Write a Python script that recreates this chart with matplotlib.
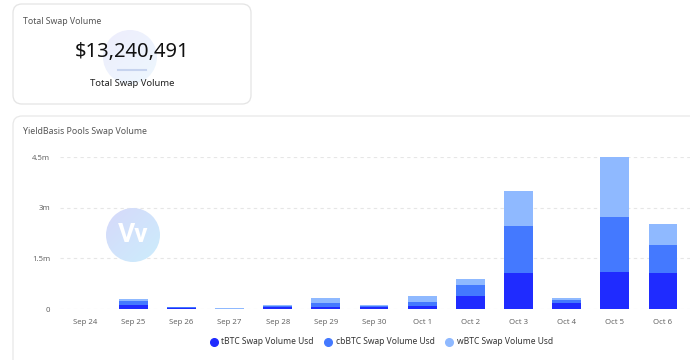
import numpy as np
import matplotlib.pyplot as plt
from matplotlib.patches import FancyBboxPatch, Circle
from matplotlib.lines import Line2D

plt.rcParams['font.family'] = ['Noto Sans', 'DejaVu Sans']

days = ['Sep 24', 'Sep 25', 'Sep 26', 'Sep 27', 'Sep 28', 'Sep 29', 'Sep 30',
        'Oct 1', 'Oct 2', 'Oct 3', 'Oct 4', 'Oct 5', 'Oct 6']
tbtc = [0, 0.12, 0.04, 0.005, 0.07, 0.07, 0.06, 0.09, 0.39, 1.08, 0.18, 1.11, 1.06]
cbbtc = [0, 0.12, 0.02, 0.005, 0.03, 0.12, 0.03, 0.13, 0.32, 1.38, 0.09, 1.61, 0.84]
wbtc = [0, 0.06, 0.01, 0.01, 0.03, 0.13, 0.02, 0.17, 0.19, 1.02, 0.07, 1.77, 0.62]
series_names = ['tBTC Swap Volume Usd', 'cbBTC Swap Volume Usd', 'wBTC Swap Volume Usd']
colors = ['#1f2bff', '#4479ff', '#8fb9ff']
total_label = '$13,240,491'
yticks = [0, 1.5e6, 3e6, 4.5e6]
yticklabels = ['0', '1.5m', '3m', '4.5m']

W, H = 690, 360
fig = plt.figure(figsize=(W / 100, H / 100), dpi=100)
fig.patch.set_facecolor('white')

# cards (pixel coordinates), kept behind everything
card1 = FancyBboxPatch((13, H - 104), 238, 100, boxstyle='round,pad=0,rounding_size=9',
                       transform=None, facecolor='white', edgecolor='#e4e4e4', linewidth=0.9, zorder=-10)
card2 = FancyBboxPatch((13, -20), 720, H - 116 + 20, boxstyle='round,pad=0,rounding_size=9',
                       transform=None, facecolor='white', edgecolor='#e8e8e8', linewidth=0.9, zorder=-10)
fig.patches.extend([card1, card2])

def px(x, y):
    return x / W, 1 - y / H

# faint watermark behind the total
g = np.linspace(0, 1, 64)
gx, gy = np.meshgrid(g, g)
t = (gx + gy) / 2

wm = fig.add_axes([(130 - 27) / W, 1 - (57 + 27) / H, 54 / W, 54 / H])
c0 = np.array([0.93, 0.93, 0.99])
c1 = np.array([0.93, 0.97, 0.995])
img = c0[None, None, :] * (1 - t[..., None]) + c1[None, None, :] * t[..., None]
im = wm.imshow(img, extent=(0, 1, 0, 1), origin='upper')
im.set_clip_path(Circle((0.5, 0.5), 0.5, transform=wm.transData))
wm.set_xlim(0, 1)
wm.set_ylim(0, 1)
wm.axis('off')

fig.text(*px(23, 22), 'Total Swap Volume', fontsize=6.3, color='#555555', va='center', ha='left')
fig.text(*px(132, 52), total_label, fontsize=14.5, color='#111111', va='center', ha='center', zorder=5)
fig.add_artist(Line2D([118 / W, 146 / W], [1 - 70 / H, 1 - 70 / H], color='#c6d3ee', linewidth=1.5))
fig.text(*px(132, 84), 'Total Swap Volume', fontsize=6.8, color='#222222', va='center', ha='center',
         fontweight='medium')

fig.text(*px(23, 131), 'YieldBasis Pools Swap Volume', fontsize=6.3, color='#555555', va='center', ha='left')

# chart
ax = fig.add_axes([60 / W, 51 / H, 630 / W, 152 / H])
ax.set_facecolor('none')
x = np.arange(len(days))
t_ = np.array(tbtc) * 1e6
c_ = np.array(cbbtc) * 1e6
w_ = np.array(wbtc) * 1e6
ax.bar(x, t_, width=0.6, color=colors[0], label=series_names[0], zorder=3)
ax.bar(x, c_, width=0.6, bottom=t_, color=colors[1], label=series_names[1], zorder=3)
ax.bar(x, w_, width=0.6, bottom=t_ + c_, color=colors[2], label=series_names[2], zorder=3)
ax.set_xlim(-0.52, 12.56)
ax.set_ylim(0, 4.5e6)
ax.set_yticks(yticks)
ax.set_yticklabels(yticklabels)
ax.set_xticks(x)
ax.set_xticklabels(days)
ax.tick_params(axis='both', length=0, labelsize=5.6, colors='#666666')
ax.tick_params(axis='y', pad=7)
ax.tick_params(axis='x', pad=7)
for s in ax.spines.values():
    s.set_visible(False)
ax.grid(axis='y', linestyle=(0, (3, 3)), color='#e6e6e6', linewidth=0.8, zorder=0)

# watermark logo
lg = fig.add_axes([(133 - 27) / W, 1 - (235 + 27) / H, 54 / W, 54 / H])
lg.set_zorder(5)
a0 = np.array([0.84, 0.85, 0.98])
a1 = np.array([0.80, 0.93, 0.99])
img2 = a0[None, None, :] * (1 - t[..., None]) + a1[None, None, :] * t[..., None]
im2 = lg.imshow(img2, extent=(0, 1, 0, 1), origin='upper')
im2.set_clip_path(Circle((0.5, 0.5), 0.5, transform=lg.transData))
lg.text(0.5, 0.5, 'Vv', fontsize=19, fontweight='bold', color='white', ha='center', va='center',
        transform=lg.transAxes, family=['Roboto', 'DejaVu Sans'])
lg.set_xlim(0, 1)
lg.set_ylim(0, 1)
lg.axis('off')

handles = [Line2D([], [], marker='o', linestyle='none', markersize=5.5, color=c) for c in colors]
fig.legend(handles, series_names, loc='center', bbox_to_anchor=(381 / W, 1 - 342 / H), ncol=3,
           frameon=False, fontsize=6.1, handletextpad=0.4, columnspacing=1.2, handlelength=1.0,
           labelcolor='#333333')

fig.savefig('out.png', dpi=100, facecolor='white')
